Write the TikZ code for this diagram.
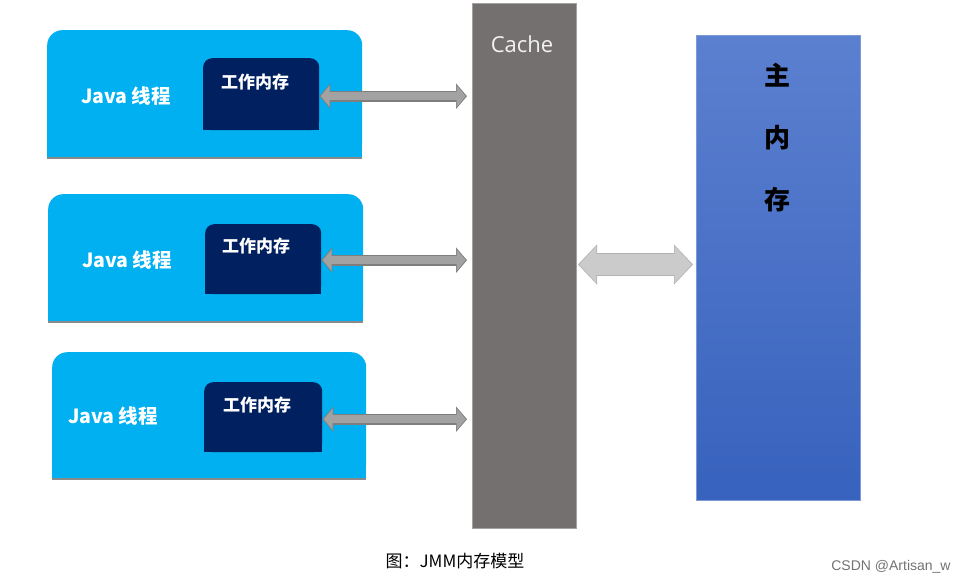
\documentclass[tikz,border=0pt]{standalone}
\usepackage{fontspec}
\setmainfont{Noto Sans CJK SC}
\newfontfamily\opensans{Open Sans}
\newfontfamily\libsans{Liberation Sans}
\usetikzlibrary{arrows.meta}
\definecolor{threadblue}{HTML}{00B0F0}
\definecolor{navy}{HTML}{002060}
\definecolor{cachefill}{HTML}{757070}
\definecolor{cacheedge}{HTML}{A3A3A3}
\definecolor{mmtop}{HTML}{5C80D0}
\definecolor{mmbottom}{HTML}{3762BD}
\definecolor{mmedge}{HTML}{7C9AD8}
\definecolor{arrowfill}{HTML}{A2A2A2}
\definecolor{arrowedge}{HTML}{7E7E7E}
\definecolor{bigfill}{HTML}{CBCBCB}
\definecolor{bigedge}{HTML}{B3B3B3}
\definecolor{shadowgray}{HTML}{8A8A8A}
\tikzset{
  threadbox/.style={fill=threadblue, rounded corners=15pt, anchor=north west, inner sep=0pt},
  workbox/.style={fill=navy, rounded corners=9pt, anchor=north west, inner sep=0pt},
  threadlabel/.style={text=white, font=\bfseries\fontsize{19.5}{22}\selectfont, inner sep=0pt},
  worklabel/.style={text=white, font=\bfseries\fontsize{17}{20}\selectfont, inner sep=0pt},
  arrowout/.style={draw=arrowedge, line width=11pt, {Triangle[length=11pt,width=25pt]}-{Triangle[length=11pt,width=25pt]}},
  arrowin/.style={draw=arrowfill, line width=8pt, {Triangle[length=9pt,width=21pt]}-{Triangle[length=9pt,width=21pt]}},
  bigout/.style={draw=bigedge, line width=23pt, {Triangle[length=19pt,width=39pt]}-{Triangle[length=19pt,width=39pt]}},
  bigin/.style={draw=bigfill, line width=21pt, {Triangle[length=17pt,width=36pt]}-{Triangle[length=17pt,width=36pt]}},
}
\begin{document}
\begin{tikzpicture}[x=1pt,y=-1pt]
\useasboundingbox[fill=white] (0,0) rectangle (966,583);
% thread boxes
\foreach \n/\x/\y/\w/\h in {t1/47/30/315/127, t2/48/194/315/127, t3/52/352/314/126}{
  \node[threadbox, minimum width=\w pt, minimum height=\h pt] (\n) at (\x,\y) {};
  \fill[threadblue] (\n.west) rectangle (\n.south east);
  \draw[shadowgray, line width=1.3pt] ([yshift=-0.6pt]\n.south west) -- ([yshift=-0.6pt]\n.south east);
}
% work memory boxes
\foreach \n/\x/\y/\w/\h in {w1/203/58/116/72, w2/205/224/116/70, w3/204/382/118/70}{
  \node[workbox, minimum width=\w pt, minimum height=\h pt] (\n) at (\x,\y) {};
  \fill[navy] (\n.west) rectangle (\n.south east);
}
\node[threadlabel] (j1) at (126,96) {Java 线程};
\node[threadlabel] (j2) at (127,260) {Java 线程};
\node[threadlabel] (j3) at (113,416) {Java 线程};
\node[worklabel] (l1) at (255,82) {工作内存};
\node[worklabel] (l2) at (256,246) {工作内存};
\node[worklabel] (l3) at (257,405) {工作内存};
% cache
\node[fill=cachefill, draw=cacheedge, line width=1pt, anchor=north west, inner sep=0pt,
      minimum width=104pt, minimum height=525pt] (cache) at (472,3) {};
\node[text=white!95!black, font=\opensans\fontsize{22}{26}\selectfont, inner sep=0pt] (ct) at (522,44) {Cache};
% main memory
\node[top color=mmtop, bottom color=mmbottom, draw=mmedge, line width=0.8pt, anchor=north west, inner sep=0pt,
      minimum width=164pt, minimum height=465pt] (mm) at (696,35) {};
\node[font=\bfseries\fontsize{26}{30}\selectfont, text=black, inner sep=0pt] (m1) at (777,75) {主};
\node[font=\bfseries\fontsize{26}{30}\selectfont, text=black, inner sep=0pt] (m2) at (777,138) {内};
\node[font=\bfseries\fontsize{26}{30}\selectfont, text=black, inner sep=0pt] (m3) at (777,200) {存};
% small arrows
\foreach \w/\dy in {w1/-2, w2/-1, w3/-2}{
  \draw[arrowout, shorten <=0pt, shorten >=5pt] ([yshift=\dy pt]\w.east) -- ([yshift=\dy pt]cache.west |- \w.east);
  \draw[arrowin, shorten <=1.3pt, shorten >=6.3pt] ([yshift=\dy pt]\w.east) -- ([yshift=\dy pt]cache.west |- \w.east);
}
% big arrow
\draw[bigout, shorten <=1pt, shorten >=3pt] ([yshift=1.5pt]cache.east) -- ([yshift=1.5pt]mm.west |- cache.east);
\draw[bigin, shorten <=2.3pt, shorten >=4.3pt] ([yshift=1.5pt]cache.east) -- ([yshift=1.5pt]mm.west |- cache.east);
% caption
\node[font=\fontsize{17}{20}\selectfont, text=black, inner sep=0pt] (cap) at (455,561) {图：JMM内存模型};
\node[font=\libsans\fontsize{14}{16}\selectfont, text=black!55, inner sep=0pt] (wm) at (891,567) {CSDN @Artisan\_w};
\end{tikzpicture}
\end{document}
